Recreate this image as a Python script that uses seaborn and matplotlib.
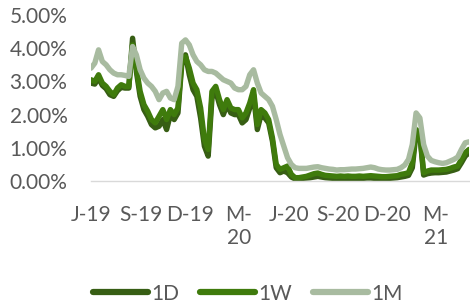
import numpy as np
import pandas as pd
import matplotlib
matplotlib.use("Agg")
import matplotlib.pyplot as plt
import matplotlib.ticker as mticker
import seaborn as sns

# ---- data (percent), weekly observations starting 2019-06-01 ----
start_date = "2019-06-01"
rate_1m = [3.40, 3.55, 3.95, 3.60, 3.50, 3.35, 3.25, 3.20, 3.20, 3.18,
           3.15, 4.05, 3.80, 3.35, 3.10, 2.95, 2.85, 2.70, 2.45, 2.65,
           2.70, 2.50, 2.45, 2.85, 4.15, 4.25, 4.10, 3.80, 3.60, 3.50,
           3.35, 3.30, 3.30, 3.25, 3.15, 3.05, 3.00, 2.95, 2.80, 2.75,
           2.75, 2.85, 3.20, 3.35, 2.95, 2.65, 2.55, 2.45, 2.25, 1.85,
           1.40, 1.05, 0.70, 0.50, 0.40, 0.38, 0.38, 0.38, 0.40, 0.42,
           0.43, 0.40, 0.38, 0.36, 0.35, 0.33, 0.34, 0.34, 0.35, 0.36,
           0.36, 0.37, 0.38, 0.40, 0.42, 0.40, 0.36, 0.34, 0.33, 0.33,
           0.34, 0.35, 0.40, 0.48, 0.65, 1.10, 2.05, 1.90, 1.10, 0.75,
           0.62, 0.58, 0.55, 0.53, 0.55, 0.60, 0.65, 0.72, 0.95, 1.15,
           1.18]
rate_1w = [3.05, 3.00, 3.20, 2.95, 2.85, 2.70, 2.60, 2.80, 2.90, 2.85,
           2.85, 4.10, 3.40, 2.70, 2.30, 2.10, 1.85, 1.75, 1.95, 2.15,
           1.85, 2.15, 2.00, 2.20, 3.60, 3.75, 3.40, 2.95, 2.75, 2.20,
           1.25, 0.95, 2.70, 2.85, 2.45, 2.15, 2.45, 2.20, 2.15, 2.15,
           1.90, 2.05, 2.35, 2.75, 1.70, 2.15, 2.05, 1.85, 1.30, 0.50,
           0.35, 0.40, 0.45, 0.20, 0.10, 0.10, 0.12, 0.14, 0.18, 0.22,
           0.24, 0.20, 0.17, 0.16, 0.15, 0.14, 0.15, 0.14, 0.15, 0.14,
           0.14, 0.15, 0.14, 0.15, 0.16, 0.15, 0.14, 0.13, 0.13, 0.14,
           0.15, 0.16, 0.20, 0.22, 0.25, 0.55, 1.55, 1.45, 0.25, 0.30,
           0.33, 0.33, 0.33, 0.34, 0.35, 0.38, 0.42, 0.45, 0.65, 0.85,
           0.95]
rate_1d = [2.95, 2.92, 3.10, 2.88, 2.78, 2.60, 2.55, 2.72, 2.82, 2.80,
           2.80, 4.30, 3.30, 2.55, 2.15, 1.95, 1.70, 1.60, 1.65, 1.85,
           1.55, 2.00, 1.85, 2.05, 3.50, 3.80, 3.20, 2.75, 2.55, 1.90,
           1.05, 0.75, 2.50, 2.70, 2.30, 2.00, 2.30, 2.05, 2.00, 2.00,
           1.75, 1.85, 2.20, 2.60, 1.55, 2.00, 1.90, 1.75, 1.20, 0.40,
           0.25, 0.30, 0.25, 0.12, 0.06, 0.07, 0.08, 0.09, 0.10, 0.12,
           0.14, 0.12, 0.10, 0.09, 0.08, 0.08, 0.08, 0.07, 0.08, 0.08,
           0.07, 0.08, 0.08, 0.09, 0.09, 0.08, 0.08, 0.07, 0.07, 0.08,
           0.09, 0.10, 0.12, 0.14, 0.17, 0.40, 1.45, 1.40, 0.18, 0.22,
           0.24, 0.25, 0.25, 0.26, 0.27, 0.30, 0.33, 0.37, 0.55, 0.75,
           0.85]
series_names = ["1D", "1W", "1M"]
tick_dates = ["2019-06-01", "2019-09-01", "2019-12-01", "2020-03-01",
              "2020-06-01", "2020-09-01", "2020-12-01", "2021-03-01"]
tick_labels = ["J-19", "S-19", "D-19", "M-\n20", "J-20", "S-20", "D-20", "M-\n21"]
y_ticks = [0, 1, 2, 3, 4, 5]
colors = ["#375E14", "#3F7B0C", "#A8BBA0"]

n = len(rate_1d)
dates = pd.date_range(start_date, periods=n, freq="7D")
df = pd.DataFrame({
    "date": np.concatenate([dates, dates, dates]),
    "rate": np.concatenate([rate_1d, rate_1w, rate_1m]),
    "tenor": np.repeat(series_names, n),
})

sns.set_theme(style="white")
plt.rcParams["font.family"] = ["Lato", "DejaVu Sans"]
text_color = "#595959"

W, H = 470, 305
fig = plt.figure(figsize=(W / 100, H / 100), dpi=100)
ax = fig.add_axes([91 / W, 1 - 181 / H, (469 - 91) / W, (181 - 15) / H])

sns.lineplot(data=df, x="date", y="rate", hue="tenor", hue_order=series_names,
             palette=colors, linewidth=3.9, ax=ax, legend=True)
for line in ax.get_lines():
    line.set_solid_joinstyle("round")
    line.set_solid_capstyle("round")

ax.set_ylim(0, 5)
ax.set_yticks(y_ticks)
ax.yaxis.set_major_formatter(mticker.FuncFormatter(lambda v, p: f"{v:.2f}%"))
ax.set_xlim(dates[0], dates[-1])
ax.set_xticks(pd.to_datetime(tick_dates))
ax.set_xticklabels(tick_labels, ha="center", va="top", linespacing=1.2)
ax.set_xlabel("")
ax.set_ylabel("")

for s in ["left", "right", "top"]:
    ax.spines[s].set_visible(False)
ax.spines["bottom"].set_color("#D9D9D9")
ax.spines["bottom"].set_linewidth(1.0)

ax.tick_params(axis="x", which="major", direction="out", length=4, width=1,
               color="#D9D9D9", pad=13, labelsize=15, labelcolor=text_color)
ax.tick_params(axis="y", length=0, pad=17, labelsize=15, labelcolor=text_color)
ax.grid(False)

handles, labels = ax.get_legend_handles_labels()
ax.get_legend().remove()
leg = fig.legend(handles, labels, loc="center", bbox_to_anchor=(248 / W, 1 - 293.5 / H),
                 ncol=3, frameon=False, fontsize=15, handlelength=2.65,
                 handletextpad=0.15, columnspacing=1.0, labelcolor=text_color)
for line in leg.get_lines():
    line.set_linewidth(4.5)
    line.set_solid_capstyle("round")

fig.savefig("out.png", dpi=100)
